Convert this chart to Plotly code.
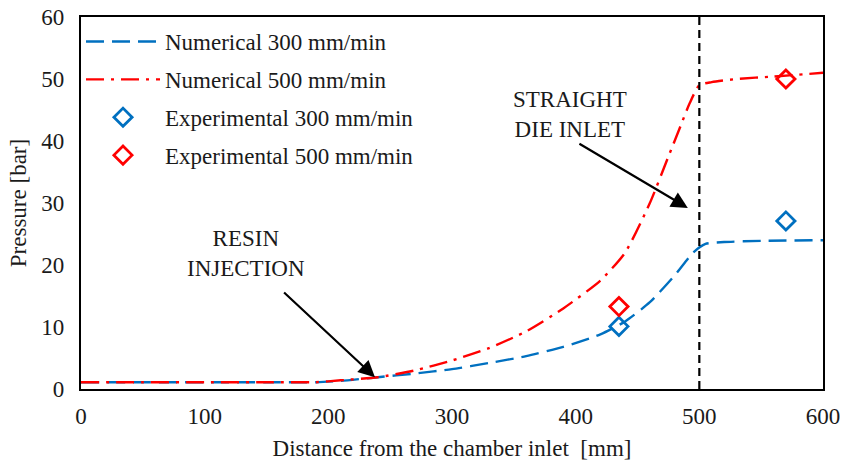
import plotly.graph_objects as go

# Numerical pressure profiles along the chamber
dist_300 = [0, 50, 100, 150, 190, 210, 240, 270, 300, 330, 360, 390, 420, 440, 460, 480, 495, 505, 520, 550, 600]
pres_300 = [1.1, 1.1, 1.1, 1.1, 1.1, 1.3, 1.9, 2.5, 3.2, 4.2, 5.3, 6.8, 8.8, 10.9, 14.0, 18.3, 22.0, 23.4, 23.7, 23.9, 24.0]

dist_500 = [0, 50, 100, 150, 190, 210, 240, 270, 300, 330, 360, 390, 420, 440, 460, 475, 485, 492, 500, 510, 530, 560, 600]
pres_500 = [1.1, 1.1, 1.1, 1.1, 1.1, 1.4, 1.9, 3.0, 4.6, 6.6, 9.3, 13.0, 17.5, 22.0, 30.0, 37.5, 42.5, 46.0, 49.0, 49.5, 50.0, 50.4, 51.0]

# Experimental measurements
exp_dist = [435, 570]
exp_300 = [10.1, 27.1]
exp_500 = [13.3, 50.0]

x_ticks = [0, 100, 200, 300, 400, 500, 600]
y_ticks = [0, 10, 20, 30, 40, 50, 60]

BLUE = "#0070C0"
RED = "#FF0000"
FONT = "Liberation Serif"
TXT = "#1a1a1a"
FS = 23

fig = go.Figure()
fig.add_trace(go.Scatter(x=dist_300, y=pres_300, mode="lines", name="Numerical 300 mm/min",
                         legendgroup="a", line_shape="spline",
                         line=dict(color=BLUE, width=2.4, dash="18px,8px", smoothing=0.6)))
fig.add_trace(go.Scatter(x=dist_500, y=pres_500, mode="lines", name="Numerical 500 mm/min",
                         legendgroup="b", line_shape="spline",
                         line=dict(color=RED, width=2.4, dash="18px,7px,3px,7px", smoothing=0.6)))
fig.add_trace(go.Scatter(x=exp_dist, y=exp_300, mode="markers", name="Experimental 300 mm/min",
                         legendgroup="c",
                         marker=dict(symbol="diamond-open", size=14, color=BLUE, line=dict(width=2.8, color=BLUE))))
fig.add_trace(go.Scatter(x=exp_dist, y=exp_500, mode="markers", name="Experimental 500 mm/min",
                         legendgroup="d",
                         marker=dict(symbol="diamond-open", size=14, color=RED, line=dict(width=2.8, color=RED))))

# Straight die inlet position
fig.add_shape(type="line", x0=500, x1=500, y0=0, y1=60, xref="x", yref="y",
              line=dict(color="black", width=2.2, dash="8px,5px"))

# Text labels with arrows
fig.add_annotation(x=237.7, y=1.9, ax=163, ay=15.8, xref="x", yref="y", axref="x", ayref="y",
                   text="", showarrow=True, arrowhead=2, arrowsize=1.5, arrowwidth=2.2, arrowcolor="black")
fig.add_annotation(x=133.4, y=21.9, xref="x", yref="y", text="RESIN<br>INJECTION", showarrow=False,
                   font=dict(family=FONT, size=FS, color=TXT), align="center")
fig.add_annotation(x=490.7, y=29.2, ax=401.8, ay=39.7, xref="x", yref="y", axref="x", ayref="y",
                   text="", showarrow=True, arrowhead=2, arrowsize=1.5, arrowwidth=2.2, arrowcolor="black")
fig.add_annotation(x=395.3, y=44.35, xref="x", yref="y", text="STRAIGHT<br>DIE INLET", showarrow=False,
                   font=dict(family=FONT, size=FS, color=TXT), align="center")

fig.update_layout(
    width=841, height=466,
    margin=dict(l=81, r=18, t=17, b=77),
    paper_bgcolor="white", plot_bgcolor="white",
    font=dict(family=FONT, size=FS, color=TXT),
    showlegend=True,
    legend=dict(x=0.0, y=0.992, xanchor="left", yanchor="top", bgcolor="rgba(0,0,0,0)",
                tracegroupgap=5, font=dict(family=FONT, size=FS, color=TXT),
                itemwidth=74),
    xaxis=dict(range=[0, 600], tickvals=x_ticks, showgrid=False, zeroline=False,
               showline=True, linecolor="black", linewidth=2.2, mirror=True, ticks="",
               automargin=False,
               ticklabelstandoff=5, tickfont=dict(family=FONT, size=FS, color=TXT),
               title=dict(text="Distance from the chamber inlet  [mm]", standoff=12,
                          font=dict(family=FONT, size=FS, color=TXT))),
    yaxis=dict(range=[0, 60], tickvals=y_ticks, showgrid=False, zeroline=False,
               showline=True, linecolor="black", linewidth=2.2, mirror=True, ticks="",
               automargin=False,
               ticklabelstandoff=10, tickfont=dict(family=FONT, size=FS, color=TXT),
               title=dict(text="Pressure [bar]", standoff=8, font=dict(family=FONT, size=FS, color=TXT))),
)

fig.write_html("out.html")
